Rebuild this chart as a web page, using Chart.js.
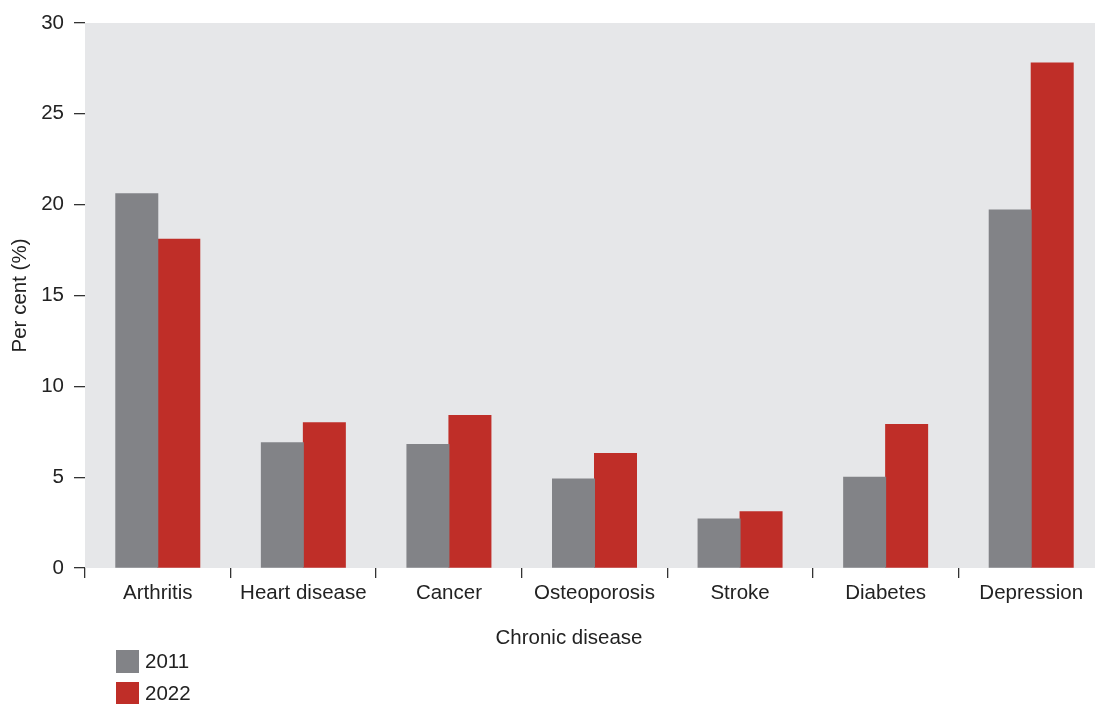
<!DOCTYPE html>
<html>
<head>
<meta charset="utf-8">
<script src="https://cdn.jsdelivr.net/npm/chart.js@4.4.1/dist/chart.umd.min.js"></script>
<style>
  html, body { margin: 0; padding: 0; background: #ffffff; overflow: hidden; }
  #wrap { position: relative; width: 1110px; height: 704px; }
</style>
</head>
<body>
<div id="wrap"><canvas id="chart" width="1110" height="704"></canvas></div>
<script>
// Share of people reporting each chronic disease, 2011 vs 2022
const categories = ['Arthritis', 'Heart disease', 'Cancer', 'Osteoporosis', 'Stroke', 'Diabetes', 'Depression'];
const values2011 = [20.6, 6.9, 6.8, 4.9, 2.7, 5.0, 19.7];
const values2022 = [18.1, 8.0, 8.4, 6.3, 3.1, 7.9, 27.8];
const seriesNames = ['2011', '2022'];
const yTicks = [0, 5, 10, 15, 20, 25, 30];

const FONT = '"Liberation Sans", Arial, Helvetica, sans-serif';
const TEXT = '#222222';
const GREY = '#828387';
const RED = '#bf2e28';

// Grey panel behind the plotting area
const panel = {
  id: 'panel',
  beforeDraw(chart) {
    const { ctx, chartArea: a } = chart;
    ctx.save();
    ctx.fillStyle = '#e6e7e9';
    ctx.fillRect(a.left, a.top, a.right - a.left, a.bottom - a.top);
    ctx.restore();
  }
};

// Axis title under the categories and a stacked legend at the bottom left
const extras = {
  id: 'extras',
  afterDraw(chart) {
    const { ctx } = chart;
    ctx.save();
    ctx.font = '20.5px ' + FONT;
    ctx.fillStyle = TEXT;
    ctx.textBaseline = 'middle';
    ctx.textAlign = 'center';
    ctx.fillText('Chronic disease', 569, 638);
    ctx.textAlign = 'left';
    chart.data.datasets.forEach((ds, i) => {
      const y = 650 + i * 32;
      ctx.fillStyle = ds.backgroundColor;
      ctx.fillRect(116, y, 23, 23);
      ctx.fillStyle = TEXT;
      ctx.fillText(ds.label, 145, y + 12.5);
    });
    ctx.restore();
  }
};

new Chart(document.getElementById('chart'), {
  type: 'bar',
  data: {
    labels: categories,
    datasets: [
      { label: seriesNames[0], data: values2011, backgroundColor: GREY, borderWidth: 0, inflateAmount: 0.5 },
      { label: seriesNames[1], data: values2022, backgroundColor: RED, borderWidth: 0, inflateAmount: 0.5 }
    ]
  },
  options: {
    responsive: false,
    animation: false,
    events: [],
    categoryPercentage: 0.577,
    barPercentage: 1.0,
    layout: { padding: { top: 23, right: 6, bottom: 0, left: 0 } },
    plugins: {
      legend: { display: false },
      tooltip: { enabled: false }
    },
    scales: {
      x: {
        border: { display: false },
        grid: {
          offset: true,
          drawOnChartArea: false,
          drawTicks: true,
          tickLength: 10,
          color: '#333333',
          lineWidth: 1.3
        },
        ticks: {
          color: TEXT,
          font: { family: FONT, size: 20.5 },
          padding: 3,
          maxRotation: 0,
          autoSkip: false
        },
        afterFit(scale) { scale.height = 136; }
      },
      y: {
        min: 0,
        max: 30,
        afterBuildTicks(scale) { scale.ticks = yTicks.map(v => ({ value: v })); },
        border: { display: false },
        grid: {
          drawOnChartArea: false,
          drawTicks: true,
          tickLength: 11,
          color: '#333333',
          lineWidth: 1.3
        },
        ticks: {
          color: TEXT,
          font: { family: FONT, size: 20.5 },
          padding: 10
        },
        title: {
          display: true,
          text: 'Per cent (%)',
          color: TEXT,
          font: { family: FONT, size: 20.5 },
          padding: { top: 8, bottom: 0 }
        },
        afterFit(scale) { scale.width = 85; }
      }
    }
  },
  plugins: [panel, extras]
});
</script>
</body>
</html>
